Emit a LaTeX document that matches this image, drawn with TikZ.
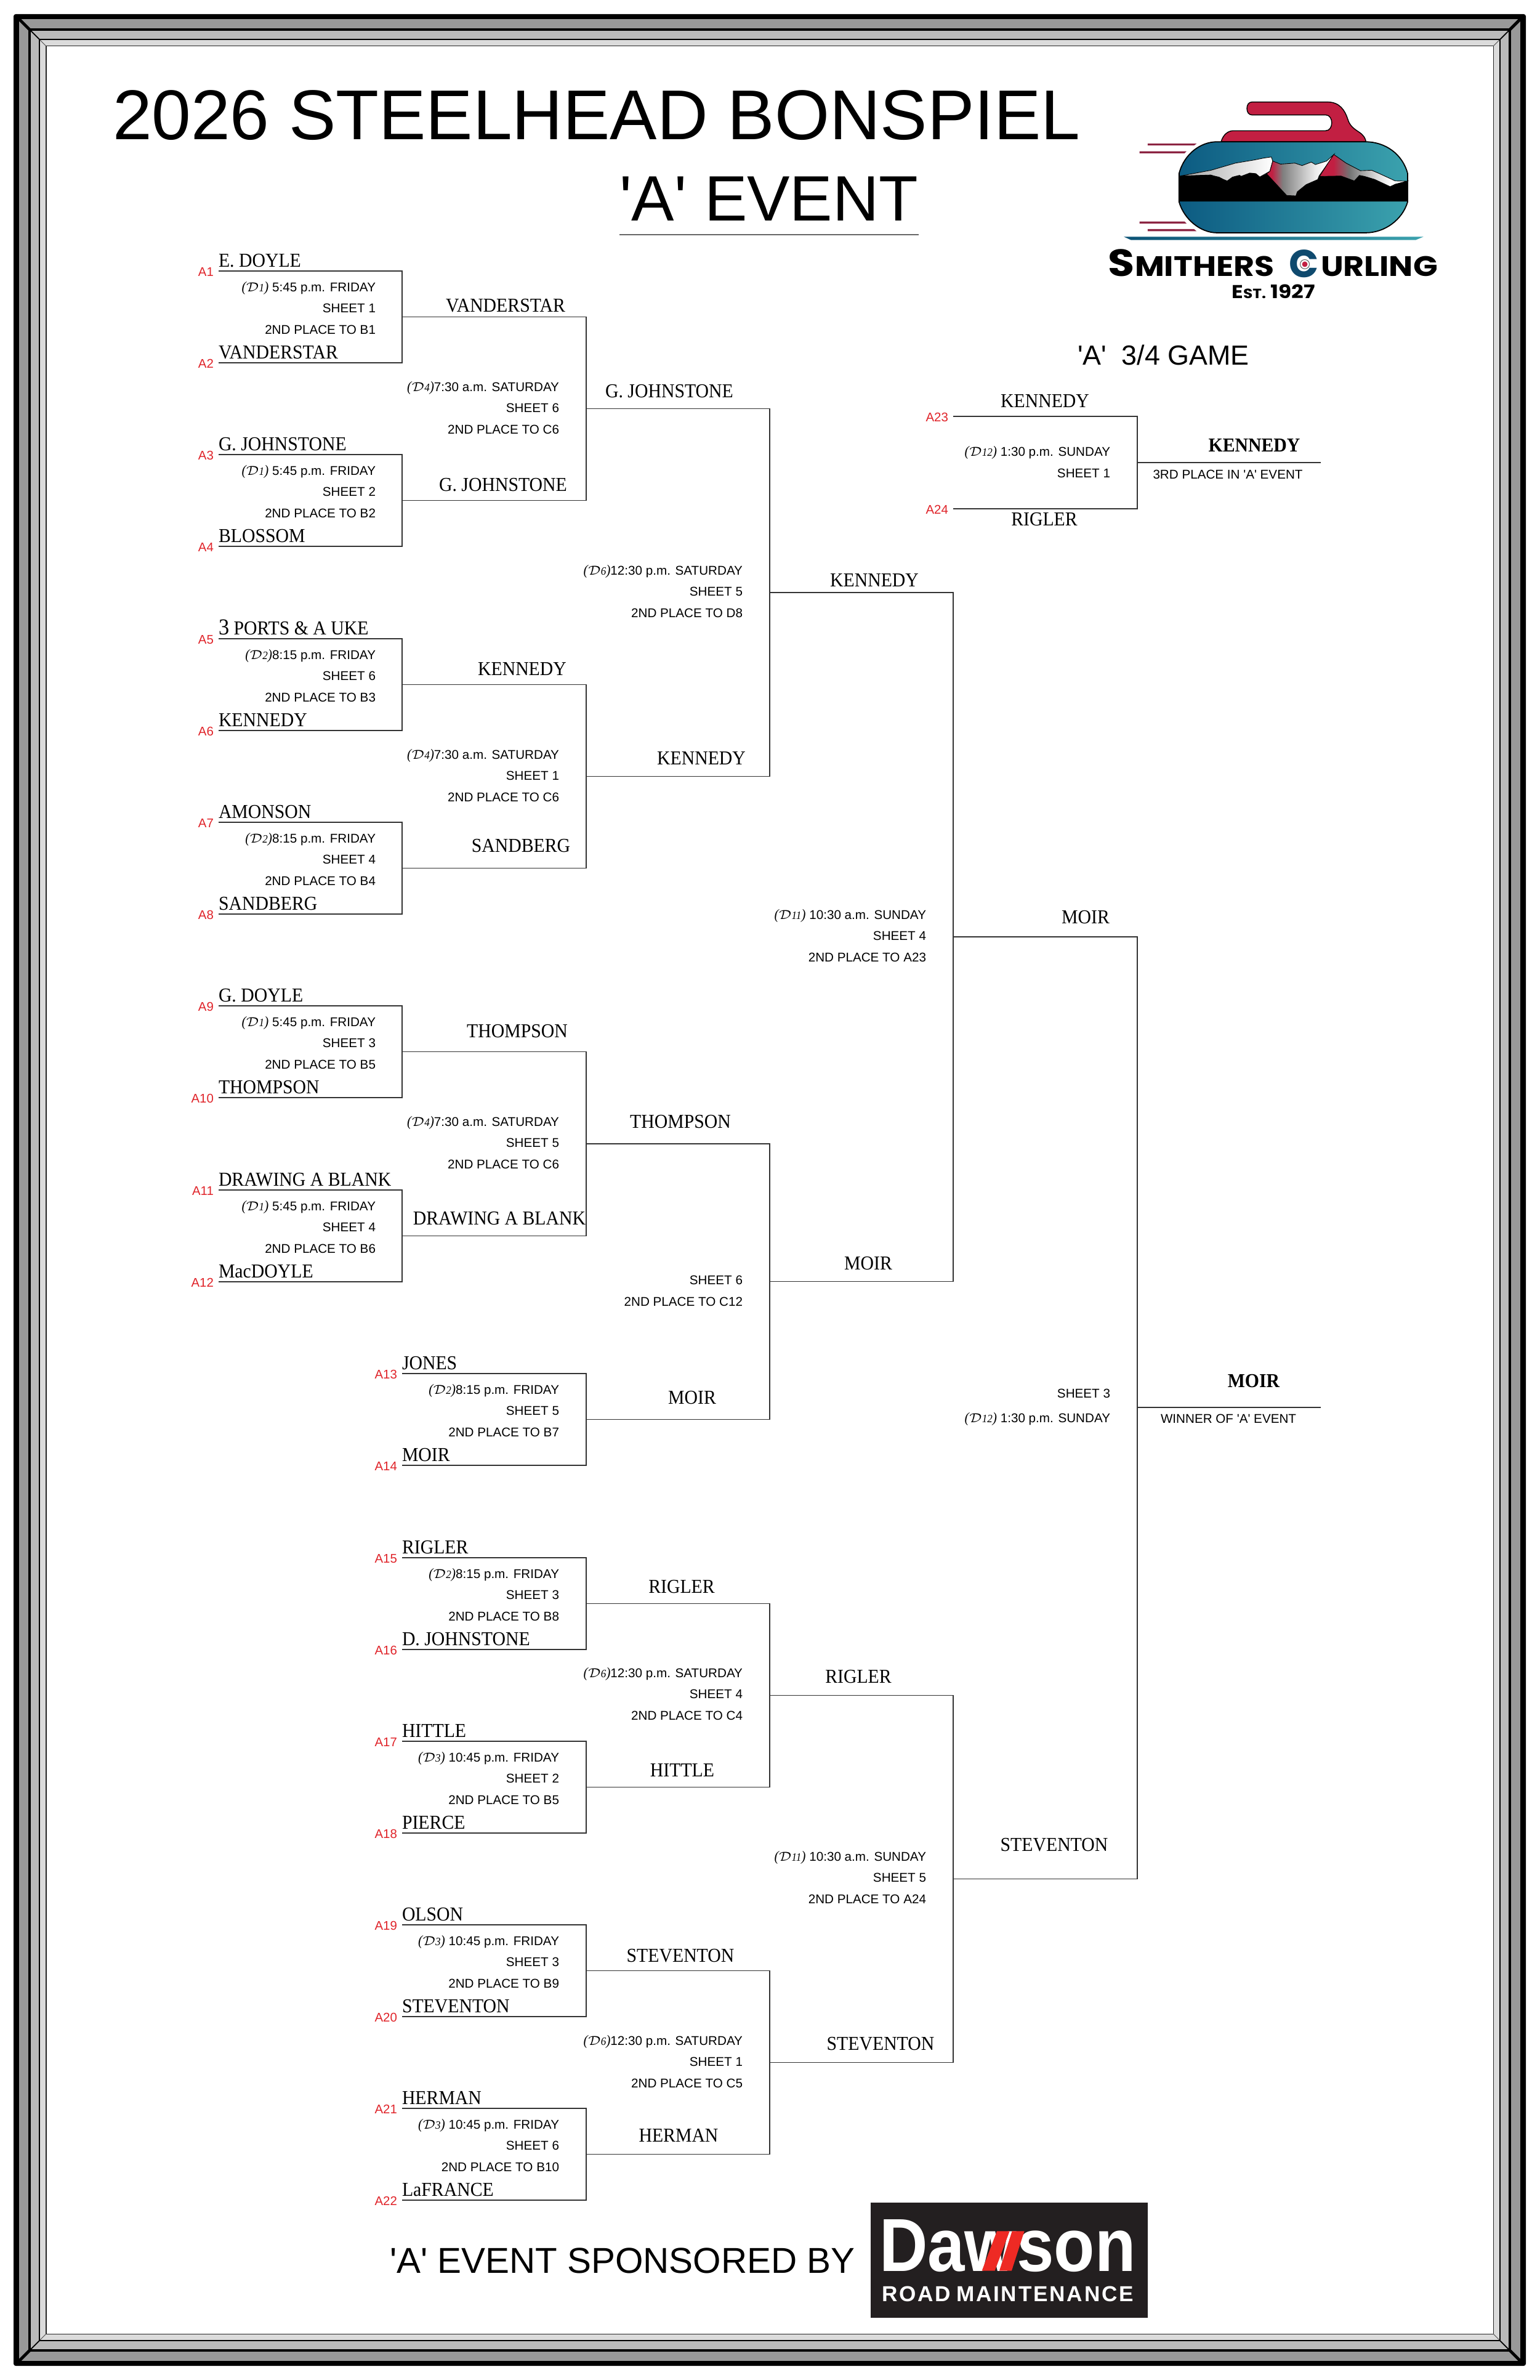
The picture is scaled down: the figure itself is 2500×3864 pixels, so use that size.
\documentclass[tikz,border=0pt]{standalone}
\usepackage{fontspec}
\newfontfamily\labelfont{Liberation Sans}
\newfontfamily\namefont[FakeStretch=0.93]{Liberation Serif}
\newfontfamily\logofont{Poppins}
\newfontfamily\logowide[FakeStretch=1.14]{Poppins}
\newfontfamily\dawfont[FakeStretch=0.89]{Liberation Sans}
\newfontfamily\roadfont[LetterSpace=8]{Liberation Sans}
\definecolor{seedred}{HTML}{E0242A}
\definecolor{handlered}{HTML}{C21F42}
\definecolor{speedred}{HTML}{8C2442}
\definecolor{stoneL}{HTML}{0C5B82}
\definecolor{stoneR}{HTML}{3BA2AE}
\definecolor{ringblue}{HTML}{0F4A6E}
\definecolor{dawblack}{HTML}{231F20}
\definecolor{dawred}{HTML}{EE2A24}
\pgfdeclarehorizontalshading{midpeak}{100bp}{color(0bp)=(handlered); color(29bp)=(handlered);
  color(37bp)=(black!50); color(61bp)=(black!8); color(69bp)=(white); color(100bp)=(white)}
\pgfdeclarehorizontalshading{rightpeak}{100bp}{color(0bp)=(handlered); color(33bp)=(handlered);
  color(42bp)=(black!55); color(57bp)=(black!15); color(66bp)=(white); color(100bp)=(white)}
\newcommand{\dtag}[1]{{\namefont\itshape\fontsize{6.6}{9.8}\selectfont(\fontsize{6}{9.8}\selectfont$\mathcal{D}$\fontsize{5.2}{9.8}\selectfont#1\fontsize{6.6}{9.8}\selectfont)}}

\begin{document}
\begin{tikzpicture}[x=0.01cm, y=-0.01cm,
  every node/.style={inner sep=0pt, outer sep=0pt, font=\labelfont},
  team/.style={anchor=base west, yshift=1.85pt, font=\fontsize{9.1}{11}\namefont},
  win/.style={anchor=base, font=\fontsize{9.1}{11}\namefont},
  champ/.style={anchor=base, font=\fontsize{9.1}{11}\namefont\bfseries},
  seed/.style={anchor=base east, xshift=-2.3pt, yshift=-2.3pt, text=seedred,
               font=\fontsize{5.8}{7}\labelfont},
  info/.style={anchor=east, align=right, yshift=-0.85pt, font=\fontsize{5.87}{9.8}\labelfont,
               execute at begin node=\strut, execute at end node=\strut},
  note/.style={anchor=base, font=\fontsize{5.87}{7}\labelfont},
  bk/.style={draw=black!80, line width=0.5pt}]

\useasboundingbox (0,0) rectangle (2500,3864);

%% --- Frame ---
\fill[black, rounded corners=1pt] (22,23) rectangle (2478,3841);
\fill[black!40] (31,31) rectangle (2469,3833);
\fill[black] (46,46) rectangle (2454,3818);
\fill[black!27] (50,50) rectangle (2450,3814);
\fill[black] (63,63) rectangle (2437,3801);
\fill[black!14] (65,65) rectangle (2435,3799);
\fill[black!85] (74,74) rectangle (2426,3790);
\fill[white] (75.5,75.5) rectangle (2424.5,3788.5);
\draw[line width=1.4pt] (31,31) -- (50,50);  \draw[line width=1.4pt] (2469,31) -- (2450,50);
\draw[line width=1.4pt] (31,3833) -- (50,3814);  \draw[line width=1.4pt] (2469,3833) -- (2450,3814);
\draw[line width=0.5pt] (50,50) -- (65,65);  \draw[line width=0.5pt] (2450,50) -- (2435,65);
\draw[line width=0.5pt] (50,3814) -- (65,3799);  \draw[line width=0.5pt] (2450,3814) -- (2435,3799);
\draw[black!70, line width=0.25pt] (65,65) -- (75,75);  \draw[black!70, line width=0.25pt] (2435,65) -- (2425,75);
\draw[black!70, line width=0.25pt] (65,3799) -- (75,3789);  \draw[black!70, line width=0.25pt] (2435,3799) -- (2425,3789);

%% --- Titles ---
\node[anchor=base west, font=\fontsize{32.55}{36}\labelfont] (TITLE) at (183,227) {2026 STEELHEAD BONSPIEL};
\node[anchor=base west, font=\fontsize{29.6}{33}\labelfont] (EVENT) at (1006,359) {'A' EVENT};
\coordinate (EVL) at (1006,381);  \coordinate (EVR) at (1492,381);
\draw[black!60, line width=0.4pt] (EVL) -- (EVR);
\node[anchor=base west, font=\fontsize{12.75}{15}\labelfont] (GAME34) at (1750,593) {'A'\ \ 3/4 GAME};

%% --- Logo: stone ---
\begin{scope}[shift={(1820,150)}, x=0.00333cm, y=-0.00333cm]
  \draw[fill=handlered, line width=0.4pt] (640,47) -- (1010,47) .. controls (1070,47) and (1095,90) .. (1108,130)
    .. controls (1118,165) and (1140,178) .. (1165,195) .. controls (1185,208) and (1195,225) .. (1197,241)
    -- (490,241) .. controls (500,205) and (525,187) .. (550,187) -- (1000,187)
    .. controls (1040,187) and (1040,110) .. (1000,110) -- (640,110)
    .. controls (608,110) and (608,47) .. (640,47) -- cycle;
  \draw[left color=stoneL, right color=stoneR, line width=0.5pt] (285,395) .. controls (310,300) and (390,241) .. (470,241)
    -- (1195,241) .. controls (1290,241) and (1375,300) .. (1400,395) -- (1400,535)
    .. controls (1375,620) and (1290,685) .. (1195,685) -- (470,685)
    .. controls (390,685) and (310,620) .. (285,535) -- cycle;
  %% peaks
  \draw[left color=black!35, right color=white, line width=0.25pt] (290,408) -- (440,380) -- (560,345) -- (650,330) -- (700,320)
    -- (735,315) -- (742,335) -- (728,385) -- (680,412) -- (520,432) -- (440,403) -- cycle;
  \draw[shading=midpeak, line width=0.25pt] (742,335) -- (780,350) -- (850,345) -- (885,357) -- (930,340) -- (950,352)
    -- (1005,335) -- (1040,303) -- (1012,345) -- (968,408) -- (962,425) -- (905,450) -- (862,485) -- (855,505)
    -- (810,503) -- (712,397) -- (728,385) -- cycle;
  \draw[shading=rightpeak, line width=0.25pt] (1040,303) -- (1100,345) -- (1170,382) -- (1225,380) -- (1260,395)
    -- (1340,432) -- (1398,433) -- (1340,448) -- (1315,460) -- (1240,425) -- (1190,410) -- (1165,405) -- (1140,432)
    -- (1075,408) -- (970,410) -- (1012,345) -- cycle;
  \fill[black] (285,408) -- (440,403) -- (480,412) -- (518,432) -- (545,412) -- (580,403) -- (588,408) -- (630,392)
    -- (660,395) -- (680,412) -- (712,397) -- (810,503) -- (855,505) -- (862,485) -- (905,450) -- (962,425)
    -- (970,410) -- (1075,408) -- (1140,432) -- (1165,405) -- (1190,410) -- (1240,425) -- (1315,460) -- (1340,448)
    -- (1398,433) -- (1400,532) -- (285,532) -- cycle;
  %% speed lines
  \fill[speedred] (132,250) -- (370,250) -- (358,259) -- (132,259) -- cycle;
  \fill[speedred] (92,287) -- (322,287) -- (312,297) -- (92,297) -- cycle;
  \fill[speedred] (92,630) -- (312,630) -- (322,640) -- (92,640) -- cycle;
  \fill[speedred] (132,667) -- (358,667) -- (370,677) -- (132,677) -- cycle;
  \shade[left color=stoneL!90!black, right color=stoneR] (15,704) -- (1478,704) -- (1440,720) -- (50,720) -- cycle;
\end{scope}

%% --- Logo: lettering ---
\node[anchor=base west, font=\fontsize{17.5}{20}\logowide\bfseries] (LOGOS) at (1799,449) {S};
\node[anchor=base west, font=\fontsize{13}{15}\logowide\bfseries] (LOGOM) at (1843,449) {MITHERS};
\node[anchor=base west, text=ringblue, font=\fontsize{18}{20}\logofont\bfseries] (LOGOC) at (2093,451) {C};
\node[anchor=base west, font=\fontsize{13}{15}\logowide\bfseries] (LOGOU) at (2145,449) {URLING};
\fill[white] (2119,429) circle (9);
\draw[black!60, line width=0.3pt] (2119,429) circle (7.5);
\fill[handlered] (2119,429) circle (4.5);
\node[anchor=base, font=\fontsize{8.6}{10}\logowide\bfseries] (LOGOE) at (2068,485) {E{\fontsize{6.2}{10}\selectfont ST.} 1927};

%% --- First round ---
\coordinate (A1)  at (355,440);   \node[team] (TA1)  at (A1)  {E. DOYLE};         \node[seed] (SA1)  at (A1)  {A1};
\coordinate (A2)  at (355,589);   \node[team] (TA2)  at (A2)  {VANDERSTAR};       \node[seed] (SA2)  at (A2)  {A2};
\coordinate (A3)  at (355,738);   \node[team] (TA3)  at (A3)  {G. JOHNSTONE};     \node[seed] (SA3)  at (A3)  {A3};
\coordinate (A4)  at (355,887);   \node[team] (TA4)  at (A4)  {BLOSSOM};          \node[seed] (SA4)  at (A4)  {A4};
\coordinate (A5)  at (355,1037);  \node[team] (TA5)  at (A5)  {{\fontsize{10.5}{11}\selectfont 3} PORTS \& A UKE}; \node[seed] (SA5)  at (A5)  {A5};
\coordinate (A6)  at (355,1186);  \node[team] (TA6)  at (A6)  {KENNEDY};          \node[seed] (SA6)  at (A6)  {A6};
\coordinate (A7)  at (355,1335);  \node[team] (TA7)  at (A7)  {AMONSON};          \node[seed] (SA7)  at (A7)  {A7};
\coordinate (A8)  at (355,1484);  \node[team] (TA8)  at (A8)  {SANDBERG};         \node[seed] (SA8)  at (A8)  {A8};
\coordinate (A9)  at (355,1633);  \node[team] (TA9)  at (A9)  {G. DOYLE};         \node[seed] (SA9)  at (A9)  {A9};
\coordinate (A10) at (355,1782);  \node[team] (TA10) at (A10) {THOMPSON};         \node[seed] (SA10) at (A10) {A10};
\coordinate (A11) at (355,1932);  \node[team] (TA11) at (A11) {DRAWING A BLANK};  \node[seed] (SA11) at (A11) {A11};
\coordinate (A12) at (355,2081);  \node[team] (TA12) at (A12) {MacDOYLE};         \node[seed] (SA12) at (A12) {A12};
\coordinate (A13) at (653,2230);  \node[team] (TA13) at (A13) {JONES};            \node[seed] (SA13) at (A13) {A13};
\coordinate (A14) at (653,2379);  \node[team] (TA14) at (A14) {MOIR};             \node[seed] (SA14) at (A14) {A14};
\coordinate (A15) at (653,2529);  \node[team] (TA15) at (A15) {RIGLER};           \node[seed] (SA15) at (A15) {A15};
\coordinate (A16) at (653,2678);  \node[team] (TA16) at (A16) {D. JOHNSTONE};     \node[seed] (SA16) at (A16) {A16};
\coordinate (A17) at (653,2827);  \node[team] (TA17) at (A17) {HITTLE};           \node[seed] (SA17) at (A17) {A17};
\coordinate (A18) at (653,2976);  \node[team] (TA18) at (A18) {PIERCE};           \node[seed] (SA18) at (A18) {A18};
\coordinate (A19) at (653,3125);  \node[team] (TA19) at (A19) {OLSON};            \node[seed] (SA19) at (A19) {A19};
\coordinate (A20) at (653,3274);  \node[team] (TA20) at (A20) {STEVENTON};        \node[seed] (SA20) at (A20) {A20};
\coordinate (A21) at (653,3423);  \node[team] (TA21) at (A21) {HERMAN};           \node[seed] (SA21) at (A21) {A21};
\coordinate (A22) at (653,3572);  \node[team] (TA22) at (A22) {LaFRANCE};         \node[seed] (SA22) at (A22) {A22};

%% --- Bracket joints ---
\coordinate (W1)  at (653,514.5);   \coordinate (W2)  at (653,812.5);   \coordinate (W3)  at (653,1111.5);
\coordinate (W4)  at (653,1409.5);  \coordinate (W5)  at (653,1707.5);  \coordinate (W6)  at (653,2006.5);
\coordinate (W7)  at (952,2304.5);  \coordinate (W8)  at (952,2603.5);  \coordinate (W9)  at (952,2901.5);
\coordinate (W10) at (952,3199.5);  \coordinate (W11) at (952,3497.5);
\coordinate (X1)  at (952,663.5);   \coordinate (X2)  at (952,1260.5);  \coordinate (X3)  at (952,1857);
\coordinate (Y1)  at (1250,962);    \coordinate (Y2)  at (1250,2080.5);
\coordinate (Y3)  at (1250,2752.5); \coordinate (Y4)  at (1250,3348.5);
\coordinate (Z1)  at (1548,1521);   \coordinate (Z2)  at (1548,3050.5);
\coordinate (F1)  at (1847,2285);   \coordinate (F2)  at (2145,2285);
\coordinate (A23) at (1548,676);    \coordinate (A24) at (1548,826);
\coordinate (T1)  at (1847,751);    \coordinate (T2)  at (2145,751);

%% --- Bracket lines ---
\draw[bk] (A1) -| (W1) |- (A2);    \draw[bk] (A3) -| (W2) |- (A4);
\draw[bk] (A5) -| (W3) |- (A6);    \draw[bk] (A7) -| (W4) |- (A8);
\draw[bk] (A9) -| (W5) |- (A10);   \draw[bk] (A11) -| (W6) |- (A12);
\draw[bk] (A13) -| (W7) |- (A14);  \draw[bk] (A15) -| (W8) |- (A16);
\draw[bk] (A17) -| (W9) |- (A18);  \draw[bk] (A19) -| (W10) |- (A20);
\draw[bk] (A21) -| (W11) |- (A22);
\draw[bk] (W1) -| (X1) |- (W2);    \draw[bk] (W3) -| (X2) |- (W4);
\draw[bk] (W5) -| (X3) |- (W6);
\draw[bk] (X1) -| (Y1) |- (X2);    \draw[bk] (X3) -| (Y2) |- (W7);
\draw[bk] (W8) -| (Y3) |- (W9);    \draw[bk] (W10) -| (Y4) |- (W11);
\draw[bk] (Y1) -| (Z1) |- (Y2);    \draw[bk] (Y3) -| (Z2) |- (Y4);
\draw[bk] (Z1) -| (F1) |- (Z2);    \draw[bk] (F1) -- (F2);
\draw[bk] (A23) -| (T1) |- (A24);  \draw[bk] (T1) -- (T2);

%% --- Winners ---
\node[win] (N1)  at (821,507)   {VANDERSTAR};
\node[win] (N2)  at (817,797)   {G. JOHNSTONE};
\node[win] (N3)  at (848,1096)  {KENNEDY};
\node[win] (N4)  at (846,1383)  {SANDBERG};
\node[win] (N5)  at (840,1684)  {THOMPSON};
\node[win] (N6)  at (811,1988)  {DRAWING A BLANK};
\node[win] (N7)  at (1124,2279) {MOIR};
\node[win] (N8)  at (1107,2586) {RIGLER};
\node[win] (N9)  at (1108,2884) {HITTLE};
\node[win] (N10) at (1105,3185) {STEVENTON};
\node[win] (N11) at (1102,3477) {HERMAN};
\node[win] (N12) at (1087,646)  {G. JOHNSTONE};
\node[win] (N13) at (1139,1241) {KENNEDY};
\node[win] (N14) at (1105,1831) {THOMPSON};
\node[win] (N15) at (1420,952)  {KENNEDY};
\node[win] (N16) at (1410,2061) {MOIR};
\node[win] (N17) at (1394,2732) {RIGLER};
\node[win] (N18) at (1430,3328) {STEVENTON};
\node[win] (N19) at (1763,1499) {MOIR};
\node[win] (N20) at (1712,3005) {STEVENTON};
\node[win] (N21) at (1697,662)  {KENNEDY};
\node[win] (N22) at (1696,853)  {RIGLER};
\node[seed] (SA23) at (A23) {A23};
\node[seed] (SA24) at (A24) {A24};

%% --- Results ---
\node[champ] (CH3) at (2037,733)  {KENNEDY};
\node[note]  (PL3) at (1994,777)  {3RD PLACE IN 'A' EVENT};
\node[champ] (CH1) at (2036,2252) {MOIR};
\node[note]  (PL1) at (1995,2310) {WINNER OF 'A' EVENT};

%% --- Draw times: first round ---
\node[info] (I1)  at (610,502)  {\dtag{1} 5:45 p.m. FRIDAY\\SHEET 1\\2ND PLACE TO B1};
\node[info] (I2)  at (610,800)  {\dtag{1} 5:45 p.m. FRIDAY\\SHEET 2\\2ND PLACE TO B2};
\node[info] (I3)  at (610,1099) {\dtag{2}8:15 p.m. FRIDAY\\SHEET 6\\2ND PLACE TO B3};
\node[info] (I4)  at (610,1397) {\dtag{2}8:15 p.m. FRIDAY\\SHEET 4\\2ND PLACE TO B4};
\node[info] (I5)  at (610,1695) {\dtag{1} 5:45 p.m. FRIDAY\\SHEET 3\\2ND PLACE TO B5};
\node[info] (I6)  at (610,1994) {\dtag{1} 5:45 p.m. FRIDAY\\SHEET 4\\2ND PLACE TO B6};
\node[info] (I7)  at (908,2292) {\dtag{2}8:15 p.m. FRIDAY\\SHEET 5\\2ND PLACE TO B7};
\node[info] (I8)  at (908,2591) {\dtag{2}8:15 p.m. FRIDAY\\SHEET 3\\2ND PLACE TO B8};
\node[info] (I9)  at (908,2889) {\dtag{3} 10:45 p.m. FRIDAY\\SHEET 2\\2ND PLACE TO B5};
\node[info] (I10) at (908,3187) {\dtag{3} 10:45 p.m. FRIDAY\\SHEET 3\\2ND PLACE TO B9};
\node[info] (I11) at (908,3485) {\dtag{3} 10:45 p.m. FRIDAY\\SHEET 6\\2ND PLACE TO B10};

%% --- Draw times: later rounds ---
\node[info] (I12) at (908,664)   {\dtag{4}7:30 a.m. SATURDAY\\SHEET 6\\2ND PLACE TO C6};
\node[info] (I13) at (908,1261)  {\dtag{4}7:30 a.m. SATURDAY\\SHEET 1\\2ND PLACE TO C6};
\node[info] (I14) at (908,1857)  {\dtag{4}7:30 a.m. SATURDAY\\SHEET 5\\2ND PLACE TO C6};
\node[info] (I15) at (1206,962)  {\dtag{6}12:30 p.m. SATURDAY\\SHEET 5\\2ND PLACE TO D8};
\node[info] (I16) at (1206,2098) {SHEET 6\\2ND PLACE TO C12};
\node[info] (I17) at (1206,2752) {\dtag{6}12:30 p.m. SATURDAY\\SHEET 4\\2ND PLACE TO C4};
\node[info] (I18) at (1206,3349) {\dtag{6}12:30 p.m. SATURDAY\\SHEET 1\\2ND PLACE TO C5};
\node[info] (I19) at (1504,1521) {\dtag{11} 10:30 a.m. SUNDAY\\SHEET 4\\2ND PLACE TO A23};
\node[info] (I20) at (1504,3050) {\dtag{11} 10:30 a.m. SUNDAY\\SHEET 5\\2ND PLACE TO A24};
\node[info] (I21) at (1803,752)  {\dtag{12} 1:30 p.m. SUNDAY\\SHEET 1};
\node[info] (I22) at (1803,2284) {SHEET 3\\[1.6pt]\dtag{12} 1:30 p.m. SUNDAY};

%% --- Sponsor ---
\node[anchor=base west, font=\fontsize{16.6}{19}\labelfont] (SPON) at (633,3690) {'A' EVENT SPONSORED BY};
\node[draw=none, fill=dawblack, minimum width=4.5cm, minimum height=1.87cm, anchor=north west] (DBOX) at (1414,3576) {};
\node[anchor=base west, text=white, font=\fontsize{34.7}{38}\dawfont\bfseries] (DAW) at (1428,3687) {Dawson};
\begin{scope}[shift={(1410,3570)}, x=0.00333cm, y=-0.00333cm]
  \fill[dawred] (555,350) -- (618,350) -- (690,157) -- (628,157) -- cycle;
  \fill[dawred] (640,350) -- (700,350) -- (762,157) -- (702,157) -- cycle;
\end{scope}
\node[anchor=base west, text=white, font=\fontsize{10}{12}\roadfont\bfseries] (ROAD) at (1432,3736) {ROAD\hspace{-1pt} MAINTENANCE};

\end{tikzpicture}
\end{document}
